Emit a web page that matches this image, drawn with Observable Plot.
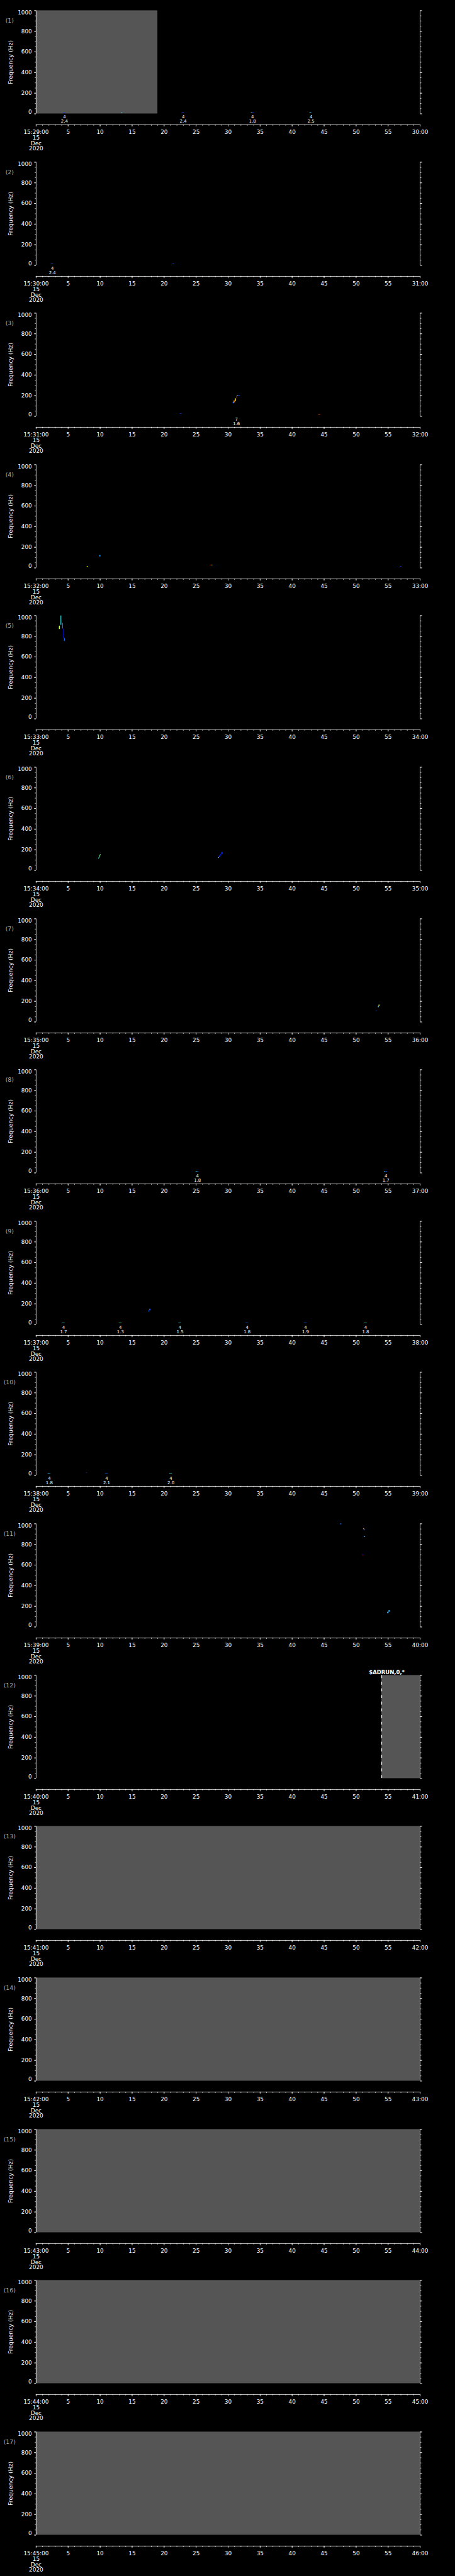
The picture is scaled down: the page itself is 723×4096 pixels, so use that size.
<!DOCTYPE html>
<html><head><meta charset="utf-8">
<script src="https://cdn.jsdelivr.net/npm/d3@7"></script>
<script src="https://cdn.jsdelivr.net/npm/@observablehq/plot@0.6"></script>
<style>
html,body{margin:0;padding:0;background:#000;}
#chart svg{display:block;}
</style></head><body><div id="chart"></div>
<script>
// ---------- data ----------
const panelIds = [1,2,3,4,5,6,7,8,9,10,11,12,13,14,15,16,17];
const panelMinutes = [29,30,31,32,33,34,35,36,37,38,39,40,41,42,43,44,45];
const hourLabel = "15";
const dateLines = ["15","Dec","2020"];
const freqMajor = [0,200,400,600,800,1000];
const freqMinor = [0,50,100,150,200,250,300,350,400,450,500,550,600,650,700,750,800,850,900,950,1000];
const secMajor = [0,5,10,15,20,25,30,35,40,45,50,55,60];
const secMinor = [0,1,2,3,4,5,6,7,8,9,10,11,12,13,14,15,16,17,18,19,20,21,22,23,24,25,26,27,28,29,30,31,32,33,34,35,36,37,38,39,40,41,42,43,44,45,46,47,48,49,50,51,52,53,54,55,56,57,58,59,60];
// gray (no data) blocks: [panel, t0, t1]
const grayBlocks = [[1,0,19.0],[12,54.0,60],[13,0,60],[14,0,60],[15,0,60],[16,0,60],[17,0,60]];
// dashed edges: [panel, t]
const dashedEdges = [[12,54.0]];
// spectrogram cells: [panel, t0, t1, f0, f1, colour]
const cells = [
  [1,4.28,4.6,10,14,"#1040ff"],[1,13.3,13.5,10,14,"#40e0ff"],[1,22.8,23.15,10,14,"#1040ff"],
  [1,33.6,33.8,10,14,"#40ffd0"],[1,33.8,34.05,10,14,"#1040ff"],
  [1,42.75,42.9,10,14,"#40ffd0"],[1,42.9,43.0,10,14,"#ffff40"],[1,43.0,43.15,10,14,"#1040ff"],
  [2,2.35,2.7,10,14,"#1060ff"],[2,21.35,21.6,10,14,"#1060ff"],
  [3,30.75,30.9,123,133,"#1040ff"],[3,30.85,31.0,128,140,"#40e0ff"],[3,30.9,31.1,133,151,"#ff8000"],
  [3,31.1,31.25,145,171,"#ffff00"],[3,31.3,31.4,171,199,"#c00000"],[3,31.45,31.6,195,201,"#40ffd0"],
  [3,31.6,31.85,195,201,"#1040ff"],[3,22.5,22.8,22,26,"#1040ff"],[3,44.1,44.45,13,17,"#ff6020"],
  [4,9.9,10.1,108,122,"#1090ff"],[4,7.95,8.15,10,15,"#ffff00"],[4,27.2,27.45,23,28,"#c00000"],
  [4,27.45,27.6,23,28,"#ffff00"],[4,56.9,57.1,10,15,"#1040ff"],
  [5,3.61,3.75,867,900,"#c0ff40"],[5,3.86,3.98,908,998,"#30e0e0"],[5,4.12,4.24,873,927,"#1070ff"],
  [5,4.26,4.35,780,873,"#0010d0"],[5,4.4,4.53,752,780,"#1070ff"],[5,3.56,3.64,875,885,"#1060ff"],
  [6,9.76,9.86,111,122,"#40e0d0"],[6,9.85,9.95,120,135,"#40f0c0"],[6,9.95,10.05,133,146,"#60ff90"],[6,10.02,10.12,144,154,"#60ff90"],
  [6,28.5,28.62,118,127,"#40e0ff"],[6,28.62,28.78,127,140,"#1040ff"],[6,28.78,28.95,140,155,"#0020e0"],[6,28.95,29.2,155,175,"#0020e0"],
  [7,53.55,53.7,152,165,"#ffff40"],[7,53.45,53.58,140,152,"#40e0ff"],[7,53.1,53.25,100,108,"#1040ff"],
  [8,24.97,25.2,10,14,"#40d0ff"],[8,25.2,25.4,10,14,"#1060ff"],[8,54.4,54.6,10,14,"#40d0ff"],[8,54.6,54.9,10,14,"#1060ff"],
  [9,4.06,4.5,10,14,"#40e0d0"],[9,12.95,13.39,10,14,"#40f0c0"],[9,22.26,22.7,10,14,"#40e0d0"],
  [9,32.75,33.19,10,14,"#1060ff"],[9,41.87,42.31,10,14,"#1060ff"],[9,51.26,51.7,10,14,"#40f0c0"],
  [9,17.6,17.72,122,134,"#1060ff"],[9,17.72,17.9,134,150,"#1060ff"],
  [10,1.84,2.28,12,17,"#40c0ff"],[10,7.85,8.0,21,25,"#1040ff"],[10,10.8,11.24,12,17,"#1060ff"],[10,20.84,21.28,12,17,"#40e0d0"],
  [11,47.5,47.75,993,1000,"#1070ff"],[11,51.15,51.3,945,955,"#ff8000"],[11,51.3,51.45,935,947,"#1040ff"],
  [11,51.25,51.45,870,878,"#40b0ff"],[11,51.0,51.1,695,705,"#1010c0"],[11,51.05,51.12,688,695,"#c00000"],
  [11,54.9,55.1,130,145,"#30c0ff"],[11,55.1,55.3,145,160,"#30c0ff"]
];
// event annotations: [panel, t, line1, line2]
const annotations = [
  [1,4.42,"4","2.4"],[1,22.98,"4","2.4"],[1,33.8,"4","1.8"],[1,42.95,"4","2.5"],
  [2,2.54,"4","2.4"],
  [3,31.3,"7","1.6"],
  [8,25.2,"4","1.8"],[8,54.65,"4","1.7"],
  [9,4.28,"4","1.7"],[9,13.17,"4","1.3"],[9,22.48,"4","1.5"],[9,32.97,"4","1.8"],[9,42.09,"4","1.9"],[9,51.48,"4","1.8"],
  [10,2.06,"4","1.8"],[10,11.02,"4","2.1"],[10,21.06,"4","2.0"]
];
// status text: [panel, t, text]
const statusTexts = [[12,52.0,"$ADRUN,0,*"]];
const yTitle = "Frequency (Hz)";

// ---------- layout (reference px * K) ----------
const K = 0.705;
const W = 723;
const blockH = 5802 / 17 * K;
const mL = 80.7 * K, mR = (1024 - 944.7) * K, mT = 23.3 * K, plotH = 232.7 * K;
const mB = blockH - mT - plotH;
const AX = 24.7 * K;            // x-axis line offset below plot
const LW = 0.8;
const GRAY = "#555555";
const FONT = "'DejaVu Sans', sans-serif";

function panel(i, minute) {
  const on = d => d[0] === i;
  const fmt = t => t === 0 ? `${hourLabel}:${minute}:00\n${dateLines.join("\n")}` :
                   t === 60 ? `${minute + 1}:00` : String(t);
  return Plot.plot({
    width: W, height: blockH,
    marginLeft: mL, marginRight: mR, marginTop: mT, marginBottom: mB,
    x: {domain: [0, 60], axis: null},
    y: {domain: [0, 1000], axis: null},
    color: {type: "identity"},
    style: {background: "black", color: "white", fontFamily: FONT, fontSize: "8.8px", overflow: "visible"},
    marks: [
      Plot.rect(grayBlocks.filter(on), {x1: d => d[1], x2: d => d[2], fill: GRAY}),
      Plot.ruleX(dashedEdges.filter(on), {x: d => d[1], stroke: "white", strokeWidth: 1.2, strokeDasharray: "4.7,5.9"}),
      Plot.rect(cells.filter(on), {x1: d => d[1], x2: d => d[2], y1: d => d[3], y2: d => d[4], fill: d => d[5]}),
      // frame sides
      Plot.ruleX([0, 60], {stroke: "white", strokeWidth: LW}),
      // left axis
      Plot.axisY({anchor: "left", ticks: freqMajor, tickSize: 4 * K, tickFormat: () => "", label: null, strokeWidth: LW}),
      Plot.axisY({anchor: "left", ticks: freqMinor, tickSize: 2 * K, tickFormat: () => "", label: null, strokeWidth: LW}),
      // right axis
      Plot.axisY({anchor: "right", ticks: freqMajor, tickSize: 4 * K, tickFormat: () => "", label: null, strokeWidth: LW}),
      Plot.axisY({anchor: "right", ticks: freqMinor, tickSize: 2 * K, tickFormat: () => "", label: null, strokeWidth: LW}),
      // y labels
      Plot.text(freqMajor.filter(v => v !== 0 && v !== 1000), {y: d => d, text: d => String(d), frameAnchor: "left", dx: -6.8, textAnchor: "end", lineAnchor: "middle", fontSize: 8.8}),
      Plot.text(freqMajor.filter(v => v === 1000), {y: d => d, text: d => String(d), frameAnchor: "left", dx: -6.8, dy: 2.8, textAnchor: "end", lineAnchor: "middle", fontSize: 8.8}),
      Plot.text(freqMajor.filter(v => v === 0), {y: d => d, text: d => String(d), frameAnchor: "left", dx: -6.8, dy: -2.5, textAnchor: "end", lineAnchor: "middle", fontSize: 8.8}),
      Plot.text([yTitle], {frameAnchor: "left", rotate: -90, dx: -40.5, textAnchor: "middle", lineAnchor: "middle", fontSize: 9.3}),
      Plot.text([`(${i})`], {frameAnchor: "top-left", dx: -42.1, dy: 16.5, textAnchor: "middle", lineAnchor: "middle", fill: "#aaaaaa", fontSize: 9.4}),
      // x axis
      Plot.ruleY([0], {dy: AX, stroke: "white", strokeWidth: LW}),
      Plot.axisX({anchor: "bottom", ticks: secMinor, tickSize: 2.7 * K, dy: AX, tickFormat: () => "", label: null, strokeWidth: LW}),
      Plot.axisX({anchor: "bottom", ticks: secMajor, tickSize: 4.7 * K, dy: AX, tickPadding: 5.6, tickFormat: fmt, label: null, strokeWidth: LW, fontSize: 8.9, lineHeight: 0.97}),
      // annotations
      Plot.text(annotations.filter(on), {x: d => d[1], text: d => d[2] + "\n" + d[3], frameAnchor: "bottom", lineAnchor: "top", dy: 2.3, fontSize: 7, lineHeight: 0.97}),
      Plot.text(statusTexts.filter(on), {x: d => d[1], text: d => d[2], frameAnchor: "top", lineAnchor: "bottom", textAnchor: "start", dy: -1.8, fontSize: 8.5, fontWeight: "bold"})
    ]
  });
}

const root = document.getElementById("chart");
panelIds.forEach((id, k) => root.appendChild(panel(id, panelMinutes[k])));
</script></body></html>
